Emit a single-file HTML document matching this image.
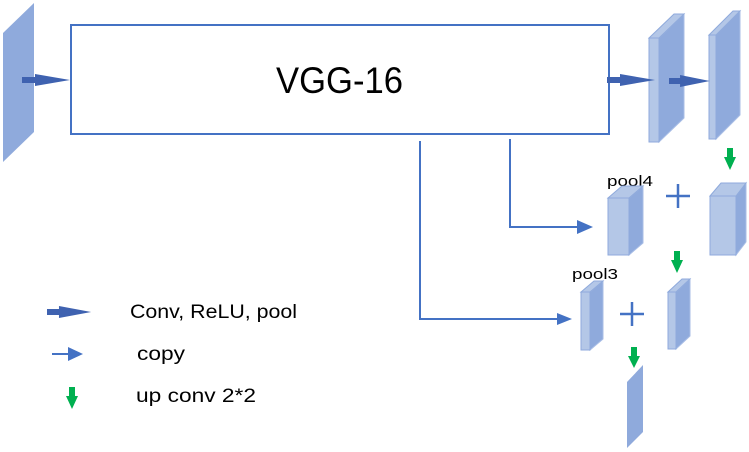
<!DOCTYPE html>
<html><head><meta charset="utf-8"><style>html,body{margin:0;padding:0;background:#fff}svg{display:block}text{font-family:"Liberation Sans",sans-serif;fill:#000}</style></head><body>
<svg width="749" height="452" viewBox="0 0 749 452">
<defs>
<g id="ha"><rect x="0" y="-3" width="14" height="6" fill="#3F62B0"/><polygon points="13,-6 48,0 13,6" fill="#3F62B0"/></g>
</defs>
<polygon points="3,33 34,3 34,132 3,162" fill="#8FAADC"/>
<use href="#ha" x="22" y="80"/>
<rect x="71" y="25" width="538" height="109" fill="#fff" stroke="#4472C4" stroke-width="2"/>
<text x="276" y="93" font-size="37" textLength="127" lengthAdjust="spacingAndGlyphs">VGG-16</text>
<polygon points="659,38 684,14 684,118 659,142" fill="#8FAADC" stroke="#A9BEE6"/>
<polygon points="649,38 674,14 684,14 659,38" fill="#B4C7E7" stroke="#8FAADC"/>
<rect x="649" y="38" width="10" height="104" fill="#B4C7E7" stroke="#8FAADC"/>
<use href="#ha" x="607" y="80"/>
<polygon points="716,35 740,11 740,115 716,139" fill="#8FAADC" stroke="#A9BEE6"/>
<polygon points="709,35 733,11 740,11 716,35" fill="#B4C7E7" stroke="#8FAADC"/>
<rect x="709" y="35" width="7" height="104" fill="#B4C7E7" stroke="#8FAADC"/>
<g transform="translate(669,81) scale(0.85,1)"><use href="#ha"/></g>
<g fill="#00B050">
<rect x="727" y="148" width="6" height="10"/><polygon points="724,157 736,157 730,170"/>
<rect x="674" y="251" width="6" height="10"/><polygon points="671,260 683,260 677,273"/>
<rect x="631" y="347" width="6" height="10"/><polygon points="628,356 640,356 634,368"/>
<rect x="69" y="387" width="6" height="10"/><polygon points="66,396 78,396 72,409"/>
</g>
<text x="607" y="186" font-size="15" textLength="46" lengthAdjust="spacingAndGlyphs">pool4</text>
<polygon points="629,198 643,186 643,243 629,255" fill="#8FAADC" stroke="#A9BEE6"/>
<polygon points="608,198 622,186 643,186 629,198" fill="#B4C7E7" stroke="#8FAADC"/>
<rect x="608" y="198" width="21" height="57" fill="#B4C7E7" stroke="#8FAADC"/>
<polygon points="736,196 746,183 746,242 736,255" fill="#8FAADC" stroke="#A9BEE6"/>
<polygon points="710,196 721,183 746,183 736,196" fill="#B4C7E7" stroke="#8FAADC"/>
<rect x="710" y="196" width="26" height="59" fill="#B4C7E7" stroke="#8FAADC"/>
<g stroke="#4472C4" stroke-width="2.5">
<line x1="666" y1="196" x2="690" y2="196"/><line x1="678" y1="184" x2="678" y2="208"/>
<line x1="620" y1="314" x2="644" y2="314"/><line x1="632" y1="302" x2="632" y2="326"/>
</g>
<text x="572" y="279" font-size="15" textLength="46" lengthAdjust="spacingAndGlyphs">pool3</text>
<polygon points="590,292 603,281 603,339 590,350" fill="#8FAADC" stroke="#A9BEE6"/>
<polygon points="581,292 594,281 603,281 590,292" fill="#B4C7E7" stroke="#8FAADC"/>
<rect x="581" y="292" width="9" height="58" fill="#B4C7E7" stroke="#8FAADC"/>
<polygon points="676,292 690,279 690,336 676,349" fill="#8FAADC" stroke="#A9BEE6"/>
<polygon points="668,292 682,279 690,279 676,292" fill="#B4C7E7" stroke="#8FAADC"/>
<rect x="668" y="292" width="8" height="57" fill="#B4C7E7" stroke="#8FAADC"/>
<polygon points="627,382 643,365 643,432 627,448" fill="#8FAADC"/>
<g stroke="#4472C4" stroke-width="2" fill="none">
<polyline points="420,141 420,319 560,319"/>
<polyline points="510,139 510,227 580,227"/>
<line x1="52" y1="354" x2="70" y2="354"/>
</g>
<g fill="#4472C4">
<polygon points="557,313 572,319 557,325"/>
<polygon points="577,220 593,227 577,234"/>
<polygon points="68,347 83,354 68,361"/>
</g>
<g transform="translate(47,312) scale(0.92,1)"><use href="#ha"/></g>
<text x="130" y="318" font-size="19" textLength="167" lengthAdjust="spacingAndGlyphs">Conv, ReLU, pool</text>
<text x="137" y="360" font-size="19" textLength="48" lengthAdjust="spacingAndGlyphs">copy</text>
<text x="136" y="402" font-size="19" textLength="120" lengthAdjust="spacingAndGlyphs">up conv 2*2</text>
</svg>
</body></html>
